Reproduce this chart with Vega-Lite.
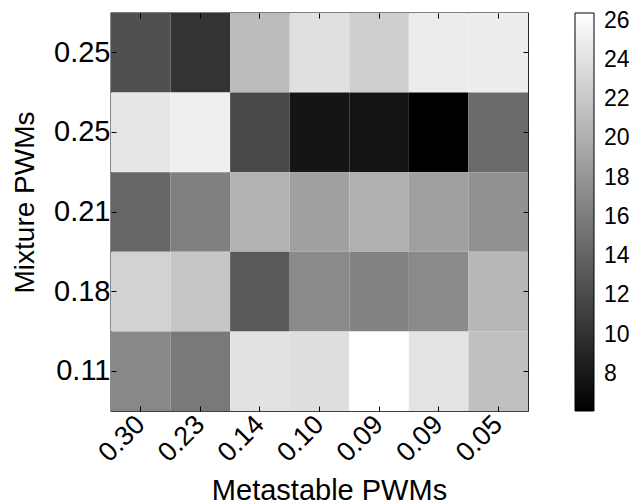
{
  "$schema": "https://vega.github.io/schema/vega-lite/v6.json",
  "autosize": "none",
  "width": 417,
  "height": 398,
  "padding": {"left": 111, "top": 13, "right": 110, "bottom": 93},
  "background": "white",
  "config": {
    "font": "Liberation Sans",
    "view": {"stroke": "black", "strokeWidth": 1.3}
  },
  "data": {"values": [
    {"m": "0.30", "x": "0.25a", "v": 12.47}, {"m": "0.23", "x": "0.25a", "v": 10.16}, {"m": "0.14", "x": "0.25a", "v": 21.07}, {"m": "0.10", "x": "0.25a", "v": 23.93}, {"m": "0.09a", "x": "0.25a", "v": 22.58}, {"m": "0.09b", "x": "0.25a", "v": 24.89}, {"m": "0.05", "x": "0.25a", "v": 24.97},
    {"m": "0.30", "x": "0.25b", "v": 24.41}, {"m": "0.23", "x": "0.25b", "v": 25.13}, {"m": "0.14", "x": "0.25b", "v": 11.83}, {"m": "0.10", "x": "0.25b", "v": 7.69}, {"m": "0.09a", "x": "0.25b", "v": 7.69}, {"m": "0.09b", "x": "0.25b", "v": 6.1}, {"m": "0.05", "x": "0.25b", "v": 14.62},
    {"m": "0.30", "x": "0.21", "v": 14.22}, {"m": "0.23", "x": "0.21", "v": 16.29}, {"m": "0.14", "x": "0.21", "v": 20.27}, {"m": "0.10", "x": "0.21", "v": 18.84}, {"m": "0.09a", "x": "0.21", "v": 20.11}, {"m": "0.09b", "x": "0.21", "v": 18.84}, {"m": "0.05", "x": "0.21", "v": 17.72},
    {"m": "0.30", "x": "0.18", "v": 22.82}, {"m": "0.23", "x": "0.18", "v": 21.86}, {"m": "0.14", "x": "0.18", "v": 13.18}, {"m": "0.10", "x": "0.18", "v": 17.08}, {"m": "0.09a", "x": "0.18", "v": 16.53}, {"m": "0.09b", "x": "0.18", "v": 17.08}, {"m": "0.05", "x": "0.18", "v": 20.75},
    {"m": "0.30", "x": "0.11", "v": 16.93}, {"m": "0.23", "x": "0.11", "v": 15.73}, {"m": "0.14", "x": "0.11", "v": 24.09}, {"m": "0.10", "x": "0.11", "v": 23.77}, {"m": "0.09a", "x": "0.11", "v": 26.4}, {"m": "0.09b", "x": "0.11", "v": 24.17}, {"m": "0.05", "x": "0.11", "v": 21.38}
  ]},
  "layer": [
    {
      "mark": {"type": "rect"},
      "encoding": {
        "x": {"field": "m", "type": "ordinal", "sort": ["0.30", "0.23", "0.14", "0.10", "0.09a", "0.09b", "0.05"], "scale": {"paddingInner": 0, "paddingOuter": 0},
          "axis": {"orient": "bottom", "title": "Metastable PWMs", "domain": false, "grid": false, "tickColor": "black", "tickSize": -5, "labelColor": "black", "labelFont": "Liberation Sans", "labelFontSize": 27, "labelAngle": -45, "labelAlign": "right", "labelBaseline": "middle", "labelPadding": 14, "labelExpr": "slice(datum.value, 0, 4)", "titleFont": "Liberation Sans", "titleFontSize": 29, "titleFontWeight": "normal", "titleColor": "black", "titleX": 218, "titleY": 88, "titleAlign": "center", "titleBaseline": "alphabetic"}},
        "y": {"field": "x", "type": "ordinal", "sort": ["0.25a", "0.25b", "0.21", "0.18", "0.11"], "scale": {"paddingInner": 0, "paddingOuter": 0},
          "axis": {"orient": "left", "title": "Mixture PWMs", "domain": false, "grid": false, "tickColor": "black", "tickSize": -5, "labelColor": "black", "labelFont": "Liberation Sans", "labelFontSize": 29, "labelPadding": 6, "labelExpr": "slice(datum.value, 0, 4)", "titleFont": "Liberation Sans", "titleFontSize": 28, "titleFontWeight": "normal", "titleColor": "black", "titleX": -78, "titleY": 189, "titleAngle": 270, "titleAlign": "center", "titleBaseline": "alphabetic"}},
        "color": {"field": "v", "type": "quantitative", "scale": {"domain": [6.1, 26.4], "range": ["#000000", "#ffffff"], "interpolate": "rgb"},
          "legend": {"title": null, "orient": "none", "legendX": 464, "legendY": 0, "padding": 0, "direction": "vertical", "gradientLength": 398, "gradientThickness": 19, "gradientStrokeColor": "black", "gradientStrokeWidth": 1, "values": [8, 10, 12, 14, 16, 18, 20, 22, 24, 26], "labelFont": "Liberation Sans", "labelFontSize": 23, "labelColor": "black", "labelOffset": 10, "labelOverlap": false}}
      }
    },
    {
      "mark": {"type": "rect", "opacity": 0},
      "encoding": {
        "x": {"field": "m", "type": "ordinal", "sort": ["0.30", "0.23", "0.14", "0.10", "0.09a", "0.09b", "0.05"], "axis": {"orient": "top", "labels": false, "title": null, "domain": false, "grid": false, "tickColor": "black", "tickSize": -5}},
        "y": {"field": "x", "type": "ordinal", "sort": ["0.25a", "0.25b", "0.21", "0.18", "0.11"], "axis": {"orient": "right", "labels": false, "title": null, "domain": false, "grid": false, "tickColor": "black", "tickSize": -5}}
      }
    }
  ],
  "resolve": {"axis": {"x": "independent", "y": "independent"}}
}
